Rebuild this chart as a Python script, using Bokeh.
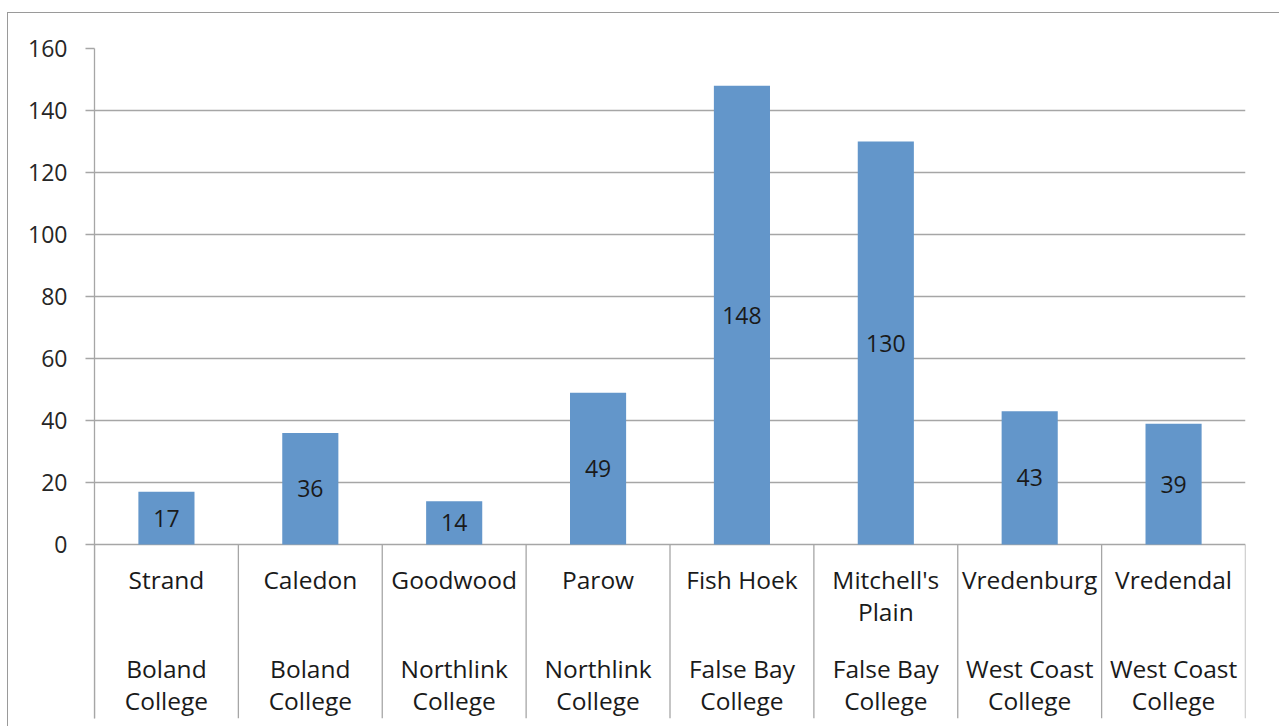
from bokeh.plotting import figure
from bokeh.models import ColumnDataSource, FixedTicker, Range1d
from bokeh.core.properties import value
from bokeh.embed import file_html
from bokeh.resources import INLINE

# Campus enrolment counts grouped by college
sites = ["Strand", "Caledon", "Goodwood", "Parow", "Fish Hoek",
         "Mitchell's Plain", "Vredenburg", "Vredendal"]
colleges = ["Boland College", "Boland College", "Northlink College", "Northlink College",
            "False Bay College", "False Bay College", "West Coast College", "West Coast College"]
counts = [17, 36, 14, 49, 148, 130, 43, 39]
y_ticks = [0, 20, 40, 60, 80, 100, 120, 140, 160]

FONT_NAME = "Open Sans"
FONT = value(FONT_NAME)
NUM_SIZE = "23px"
CAT_SIZE = "24.5px"
GRID = "#a6a6a6"
BAR = "#6396ca"
TEXT = "#1a1a1a"
Y_BOTTOM = -56.1  # room under the zero line for the two-level category labels

n = len(sites)
centers = [i + 0.5 for i in range(n)]

p = figure(width=1272, height=714, output_backend="svg", toolbar_location=None,
           x_range=Range1d(0, n), y_range=Range1d(Y_BOTTOM, 160),
           x_axis_type=None, min_border_left=86, min_border_top=35,
           min_border_right=35, min_border_bottom=9)
p.margin = (12, 0, 0, 7)
p.styles = {"border-left": "1px solid #9a9a9a", "border-top": "1px solid #9a9a9a"}
p.outline_line_color = None
p.background_fill_color = "white"
p.border_fill_color = "white"

# value axis
ax = p.yaxis[0]
ax.ticker = FixedTicker(ticks=y_ticks)
ax.axis_line_color = GRID
ax.axis_line_width = 1.3
ax.major_tick_line_color = GRID
ax.major_tick_line_width = 1.3
ax.major_tick_out = 9
ax.major_tick_in = 0
ax.minor_tick_line_color = None
ax.major_label_text_font = FONT_NAME
ax.major_label_text_font_size = NUM_SIZE
ax.major_label_text_color = "#262626"
ax.major_label_standoff = 18

p.xgrid.visible = False
p.ygrid.ticker = FixedTicker(ticks=y_ticks)
p.ygrid.grid_line_color = GRID
p.ygrid.grid_line_width = 1.3

# bars
src = ColumnDataSource(dict(
    x=centers, top=counts, mid=[c / 2 for c in counts],
    label=[str(c) for c in counts],
    site=[s.replace(" ", "\n") if s.startswith("Mitchell") else s for s in sites],
    college=[c.replace(" College", "\nCollege") for c in colleges],
))
p.vbar(x="x", top="top", bottom=0, width=0.39, source=src,
       fill_color=BAR, line_color=None)

# value labels centred in each bar
p.text(x="x", y="mid", text="label", source=src, text_font=FONT,
       text_font_size=NUM_SIZE, text_color=TEXT,
       text_align="center", text_baseline="middle")

# category dividers below the zero line
p.segment(x0=list(range(n + 1)), y0=[0] * (n + 1),
          x1=list(range(n + 1)), y1=[Y_BOTTOM] * (n + 1),
          line_color=GRID, line_width=1.3)

# two-level category labels
p.text(x="x", y=-5.9, text="site", source=src, text_font=FONT,
       text_font_size=CAT_SIZE, text_color=TEXT, text_align="center",
       text_baseline="top", text_line_height=0.98)
p.text(x="x", y=-34.7, text="college", source=src, text_font=FONT,
       text_font_size=CAT_SIZE, text_color=TEXT, text_align="center",
       text_baseline="top", text_line_height=0.98)

open("out.html", "w").write(file_html(p, INLINE))
